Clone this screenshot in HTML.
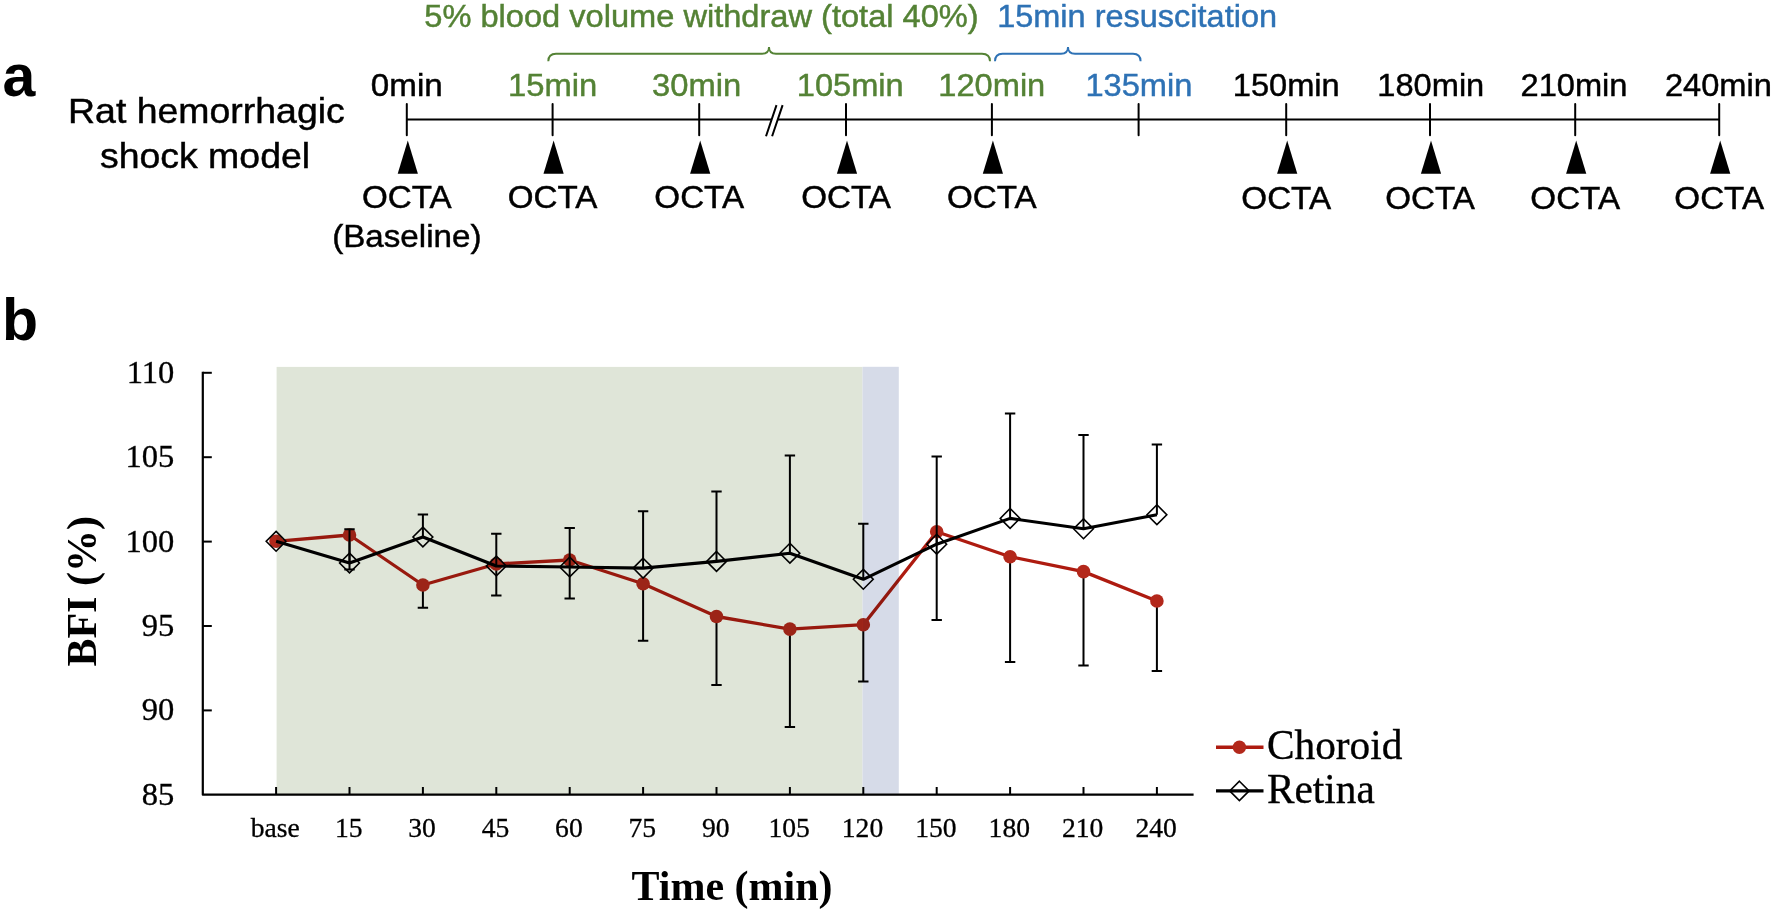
<!DOCTYPE html>
<html lang="en">
<head>
<meta charset="utf-8">
<title>Rat hemorrhagic shock model – OCTA timeline and BFI</title>
<style>
html,body{margin:0;padding:0;background:#fff;}
body{width:1774px;height:914px;overflow:hidden;}
svg{display:block;}
.s{font-family:"Liberation Sans", Arial, Helvetica, sans-serif;}
.t{font-family:"Liberation Serif", "Times New Roman", Times, serif;}
</style>
</head>
<body>
<svg width="1774" height="914" viewBox="0 0 1774 914">
<rect width="1774" height="914" fill="#fff"/>
<g class="s">
<text transform="translate(2.6,95.7) scale(1.000,1)" font-size="59" text-anchor="start" fill="#000" stroke="#000" stroke-width="0" font-weight="700">a</text>
<text transform="translate(2.0,339.6) scale(1.000,1)" font-size="59" text-anchor="start" fill="#000" stroke="#000" stroke-width="0" font-weight="700">b</text>
<text transform="translate(206.4,122.5) scale(1.070,1)" font-size="35" text-anchor="middle" fill="#000" stroke="#000" stroke-width="0.45">Rat hemorrhagic</text>
<text transform="translate(205.0,167.9) scale(1.070,1)" font-size="35" text-anchor="middle" fill="#000" stroke="#000" stroke-width="0.45">shock model</text>
<text transform="translate(701.5,26.8) scale(1.052,1)" font-size="31" text-anchor="middle" fill="#548235" stroke="#548235" stroke-width="0.45">5% blood volume withdraw (total 40%)</text>
<text transform="translate(1137.1,26.8) scale(1.048,1)" font-size="31" text-anchor="middle" fill="#2E72B5" stroke="#2E72B5" stroke-width="0.45">15min resuscitation</text>
<path d="M548.3,61.3 Q548.3,53.7 556,53.7 L762,53.7 Q769,53.7 769,47 Q769,53.7 776,53.7 L982,53.7 Q990,53.7 990,61.3" fill="none" stroke="#548235" stroke-width="1.9"/>
<path d="M995,61.3 Q995,53.7 1002.5,53.7 L1061,53.7 Q1068,53.7 1068,47 Q1068,53.7 1075,53.7 L1133,53.7 Q1140.6,53.7 1140.6,61.3" fill="none" stroke="#2E72B5" stroke-width="1.9"/>
<path d="M406.8,119.4 H1719.2" stroke="#000" stroke-width="2" fill="none"/>
<path d="M766,136.3 L776.5,105.1 L782.6,105.1 L772.1,136.3 Z" fill="#fff"/>
<path d="M766,136.3 L776.5,105.1 M772.1,136.3 L782.6,105.1" stroke="#000" stroke-width="2" fill="none"/>
<path d="M406.8,104 V135.2" stroke="#000" stroke-width="2" stroke-linecap="round" fill="none"/>
<text transform="translate(406.8,96.4) scale(1.070,1)" font-size="31" text-anchor="middle" fill="#000" stroke="#000" stroke-width="0.45">0min</text>
<path d="M407.8,140.6 L417.9,173.8 L397.7,173.8 Z" fill="#000"/>
<text transform="translate(406.8,208.2) scale(1.070,1)" font-size="31" text-anchor="middle" fill="#000" stroke="#000" stroke-width="0.45">OCTA</text>
<path d="M552.6,104 V135.2" stroke="#000" stroke-width="2" stroke-linecap="round" fill="none"/>
<text transform="translate(552.7,96.4) scale(1.058,1)" font-size="31" text-anchor="middle" fill="#548235" stroke="#548235" stroke-width="0.45">15min</text>
<path d="M553.6,140.6 L563.7,173.8 L543.5,173.8 Z" fill="#000"/>
<text transform="translate(552.6,208.2) scale(1.070,1)" font-size="31" text-anchor="middle" fill="#000" stroke="#000" stroke-width="0.45">OCTA</text>
<path d="M699.2,104 V135.2" stroke="#000" stroke-width="2" stroke-linecap="round" fill="none"/>
<text transform="translate(696.6,96.4) scale(1.058,1)" font-size="31" text-anchor="middle" fill="#548235" stroke="#548235" stroke-width="0.45">30min</text>
<path d="M700.2,140.6 L710.3,173.8 L690.1,173.8 Z" fill="#000"/>
<text transform="translate(699.2,208.2) scale(1.070,1)" font-size="31" text-anchor="middle" fill="#000" stroke="#000" stroke-width="0.45">OCTA</text>
<path d="M846.0,104 V135.2" stroke="#000" stroke-width="2" stroke-linecap="round" fill="none"/>
<text transform="translate(850.2,96.4) scale(1.052,1)" font-size="31" text-anchor="middle" fill="#548235" stroke="#548235" stroke-width="0.45">105min</text>
<path d="M847.0,140.6 L857.1,173.8 L836.9,173.8 Z" fill="#000"/>
<text transform="translate(846.0,208.2) scale(1.070,1)" font-size="31" text-anchor="middle" fill="#000" stroke="#000" stroke-width="0.45">OCTA</text>
<path d="M991.9,104 V135.2" stroke="#000" stroke-width="2" stroke-linecap="round" fill="none"/>
<text transform="translate(991.8,96.4) scale(1.052,1)" font-size="31" text-anchor="middle" fill="#548235" stroke="#548235" stroke-width="0.45">120min</text>
<path d="M992.9,140.6 L1003.0,173.8 L982.8,173.8 Z" fill="#000"/>
<text transform="translate(991.9,208.2) scale(1.070,1)" font-size="31" text-anchor="middle" fill="#000" stroke="#000" stroke-width="0.45">OCTA</text>
<path d="M1138.6,104 V135.2" stroke="#000" stroke-width="2" stroke-linecap="round" fill="none"/>
<text transform="translate(1138.9,96.4) scale(1.052,1)" font-size="31" text-anchor="middle" fill="#2E72B5" stroke="#2E72B5" stroke-width="0.45">135min</text>
<path d="M1286.2,104 V135.2" stroke="#000" stroke-width="2" stroke-linecap="round" fill="none"/>
<text transform="translate(1286.2,96.4) scale(1.052,1)" font-size="31" text-anchor="middle" fill="#000" stroke="#000" stroke-width="0.45">150min</text>
<path d="M1287.2,140.6 L1297.3,173.8 L1277.1,173.8 Z" fill="#000"/>
<text transform="translate(1286.2,209.1) scale(1.070,1)" font-size="31" text-anchor="middle" fill="#000" stroke="#000" stroke-width="0.45">OCTA</text>
<path d="M1430.0,104 V135.2" stroke="#000" stroke-width="2" stroke-linecap="round" fill="none"/>
<text transform="translate(1430.8,96.4) scale(1.052,1)" font-size="31" text-anchor="middle" fill="#000" stroke="#000" stroke-width="0.45">180min</text>
<path d="M1431.0,140.6 L1441.1,173.8 L1420.9,173.8 Z" fill="#000"/>
<text transform="translate(1430.0,209.1) scale(1.070,1)" font-size="31" text-anchor="middle" fill="#000" stroke="#000" stroke-width="0.45">OCTA</text>
<path d="M1575.2,104 V135.2" stroke="#000" stroke-width="2" stroke-linecap="round" fill="none"/>
<text transform="translate(1574.0,96.4) scale(1.052,1)" font-size="31" text-anchor="middle" fill="#000" stroke="#000" stroke-width="0.45">210min</text>
<path d="M1576.2,140.6 L1586.3,173.8 L1566.1,173.8 Z" fill="#000"/>
<text transform="translate(1575.2,209.1) scale(1.070,1)" font-size="31" text-anchor="middle" fill="#000" stroke="#000" stroke-width="0.45">OCTA</text>
<path d="M1719.2,104 V135.2" stroke="#000" stroke-width="2" stroke-linecap="round" fill="none"/>
<text transform="translate(1718.4,96.4) scale(1.052,1)" font-size="31" text-anchor="middle" fill="#000" stroke="#000" stroke-width="0.45">240min</text>
<path d="M1720.2,140.6 L1730.3,173.8 L1710.1,173.8 Z" fill="#000"/>
<text transform="translate(1719.2,209.1) scale(1.070,1)" font-size="31" text-anchor="middle" fill="#000" stroke="#000" stroke-width="0.45">OCTA</text>
<text transform="translate(406.8,247.2) scale(1.070,1)" font-size="31" text-anchor="middle" fill="#000" stroke="#000" stroke-width="0.45">(Baseline)</text>
</g>
<path d="M202.8,371.7 V794.7 H1193.6" stroke="#000" stroke-width="2.2" stroke-linejoin="round" fill="none"/>
<path d="M202.8,372.8 H211.8" stroke="#000" stroke-width="2" fill="none"/>
<text class="t" x="174.3" y="382.8" font-size="32.6" text-anchor="end" fill="#000" stroke="#000" stroke-width="0.3">110</text>
<path d="M202.8,457.2 H211.8" stroke="#000" stroke-width="2" fill="none"/>
<text class="t" x="174.3" y="467.2" font-size="32.6" text-anchor="end" fill="#000" stroke="#000" stroke-width="0.3">105</text>
<path d="M202.8,541.6 H211.8" stroke="#000" stroke-width="2" fill="none"/>
<text class="t" x="174.3" y="551.6" font-size="32.6" text-anchor="end" fill="#000" stroke="#000" stroke-width="0.3">100</text>
<path d="M202.8,626.0 H211.8" stroke="#000" stroke-width="2" fill="none"/>
<text class="t" x="174.3" y="636.0" font-size="32.6" text-anchor="end" fill="#000" stroke="#000" stroke-width="0.3">95</text>
<path d="M202.8,710.4 H211.8" stroke="#000" stroke-width="2" fill="none"/>
<text class="t" x="174.3" y="720.4" font-size="32.6" text-anchor="end" fill="#000" stroke="#000" stroke-width="0.3">90</text>
<text class="t" x="174.3" y="804.8" font-size="32.6" text-anchor="end" fill="#000" stroke="#000" stroke-width="0.3">85</text>
<path d="M276.1,794.7 V787" stroke="#000" stroke-width="2" fill="none"/>
<text class="t" x="275.2" y="836.8" font-size="27.6" stroke="#000" stroke-width="0.3" text-anchor="middle" fill="#000">base</text>
<path d="M349.5,794.7 V787" stroke="#000" stroke-width="2" fill="none"/>
<text class="t" x="348.7" y="836.8" font-size="27.6" stroke="#000" stroke-width="0.3" text-anchor="middle" fill="#000">15</text>
<path d="M422.9,794.7 V787" stroke="#000" stroke-width="2" fill="none"/>
<text class="t" x="422.1" y="836.8" font-size="27.6" stroke="#000" stroke-width="0.3" text-anchor="middle" fill="#000">30</text>
<path d="M496.3,794.7 V787" stroke="#000" stroke-width="2" fill="none"/>
<text class="t" x="495.5" y="836.8" font-size="27.6" stroke="#000" stroke-width="0.3" text-anchor="middle" fill="#000">45</text>
<path d="M569.7,794.7 V787" stroke="#000" stroke-width="2" fill="none"/>
<text class="t" x="568.9" y="836.8" font-size="27.6" stroke="#000" stroke-width="0.3" text-anchor="middle" fill="#000">60</text>
<path d="M643.1,794.7 V787" stroke="#000" stroke-width="2" fill="none"/>
<text class="t" x="642.3" y="836.8" font-size="27.6" stroke="#000" stroke-width="0.3" text-anchor="middle" fill="#000">75</text>
<path d="M716.5,794.7 V787" stroke="#000" stroke-width="2" fill="none"/>
<text class="t" x="715.7" y="836.8" font-size="27.6" stroke="#000" stroke-width="0.3" text-anchor="middle" fill="#000">90</text>
<path d="M789.9,794.7 V787" stroke="#000" stroke-width="2" fill="none"/>
<text class="t" x="789.1" y="836.8" font-size="27.6" stroke="#000" stroke-width="0.3" text-anchor="middle" fill="#000">105</text>
<path d="M863.3,794.7 V787" stroke="#000" stroke-width="2" fill="none"/>
<text class="t" x="862.5" y="836.8" font-size="27.6" stroke="#000" stroke-width="0.3" text-anchor="middle" fill="#000">120</text>
<path d="M936.7,794.7 V787" stroke="#000" stroke-width="2" fill="none"/>
<text class="t" x="935.9" y="836.8" font-size="27.6" stroke="#000" stroke-width="0.3" text-anchor="middle" fill="#000">150</text>
<path d="M1010.1,794.7 V787" stroke="#000" stroke-width="2" fill="none"/>
<text class="t" x="1009.3" y="836.8" font-size="27.6" stroke="#000" stroke-width="0.3" text-anchor="middle" fill="#000">180</text>
<path d="M1083.5,794.7 V787" stroke="#000" stroke-width="2" fill="none"/>
<text class="t" x="1082.7" y="836.8" font-size="27.6" stroke="#000" stroke-width="0.3" text-anchor="middle" fill="#000">210</text>
<path d="M1156.9,794.7 V787" stroke="#000" stroke-width="2" fill="none"/>
<text class="t" x="1156.1" y="836.8" font-size="27.6" stroke="#000" stroke-width="0.3" text-anchor="middle" fill="#000">240</text>
<text class="t" x="732" y="899.5" font-size="42" font-weight="700" text-anchor="middle" fill="#000">Time (min)</text>
<text class="t" transform="translate(95.8,591.3) rotate(-90)" font-size="42" font-weight="700" text-anchor="middle" fill="#000">BFI (%)</text>
<path d="M349.5,535.0 V569.5 M344.3,569.5 H354.7 M422.9,585.0 V607.8 M417.7,607.8 H428.1 M496.3,564.0 V595.4 M491.1,595.4 H501.5 M569.7,560.0 V598.4 M564.5,598.4 H574.9 M643.1,583.7 V640.7 M637.9,640.7 H648.3 M716.5,616.5 V684.9 M711.3,684.9 H721.7 M789.9,629.1 V727.0 M784.7,727.0 H795.1 M863.3,624.7 V681.6 M858.1,681.6 H868.5 M936.7,531.7 V620.1 M931.5,620.1 H941.9 M1010.1,556.7 V662.0 M1004.9,662.0 H1015.3 M1083.5,571.6 V665.4 M1078.3,665.4 H1088.7 M1156.9,601.0 V671.0 M1151.7,671.0 H1162.1" stroke="#000" stroke-width="2" fill="none"/>
<polyline points="276.1,541.3 349.5,535.0 422.9,585.0 496.3,564.0 569.7,560.0 643.1,583.7 716.5,616.5 789.9,629.1 863.3,624.7 936.7,531.7 1010.1,556.7 1083.5,571.6 1156.9,601.0" fill="none" stroke="#AE1B10" stroke-width="3.3" stroke-linejoin="round"/>
<circle cx="276.1" cy="541.3" r="6.8" fill="#B3281B"/>
<circle cx="349.5" cy="535.0" r="6.8" fill="#B3281B"/>
<circle cx="422.9" cy="585.0" r="6.8" fill="#B3281B"/>
<circle cx="496.3" cy="564.0" r="6.8" fill="#B3281B"/>
<circle cx="569.7" cy="560.0" r="6.8" fill="#B3281B"/>
<circle cx="643.1" cy="583.7" r="6.8" fill="#B3281B"/>
<circle cx="716.5" cy="616.5" r="6.8" fill="#B3281B"/>
<circle cx="789.9" cy="629.1" r="6.8" fill="#B3281B"/>
<circle cx="863.3" cy="624.7" r="6.8" fill="#B3281B"/>
<circle cx="936.7" cy="531.7" r="6.8" fill="#B3281B"/>
<circle cx="1010.1" cy="556.7" r="6.8" fill="#B3281B"/>
<circle cx="1083.5" cy="571.6" r="6.8" fill="#B3281B"/>
<circle cx="1156.9" cy="601.0" r="6.8" fill="#B3281B"/>
<path d="M349.5,563.0 V529.3 M344.3,529.3 H354.7 M422.9,537.0 V514.5 M417.7,514.5 H428.1 M496.3,566.0 V533.7 M491.1,533.7 H501.5 M569.7,567.0 V528.0 M564.5,528.0 H574.9 M643.1,568.1 V511.2 M637.9,511.2 H648.3 M716.5,561.4 V491.4 M711.3,491.4 H721.7 M789.9,553.2 V455.6 M784.7,455.6 H795.1 M863.3,579.3 V523.8 M858.1,523.8 H868.5 M936.7,544.2 V456.6 M931.5,456.6 H941.9 M1010.1,518.4 V413.5 M1004.9,413.5 H1015.3 M1083.5,528.8 V435.1 M1078.3,435.1 H1088.7 M1156.9,514.7 V444.4 M1151.7,444.4 H1162.1" stroke="#000" stroke-width="2" fill="none"/>
<polyline points="276.1,541.3 349.5,563.0 422.9,537.0 496.3,566.0 569.7,567.0 643.1,568.1 716.5,561.4 789.9,553.2 863.3,579.3 936.7,544.2 1010.1,518.4 1083.5,528.8 1156.9,514.7" fill="none" stroke="#000" stroke-width="3.1" stroke-linejoin="round"/>
<path d="M276.1,531.4 L285.9,541.3 L276.1,551.2 L266.2,541.3 Z" fill="none" stroke="#000" stroke-width="1.6"/>
<path d="M349.5,553.1 L359.4,563.0 L349.5,572.9 L339.6,563.0 Z" fill="none" stroke="#000" stroke-width="1.6"/>
<path d="M422.9,527.1 L432.8,537.0 L422.9,546.9 L413.0,537.0 Z" fill="none" stroke="#000" stroke-width="1.6"/>
<path d="M496.3,556.1 L506.2,566.0 L496.3,575.9 L486.4,566.0 Z" fill="none" stroke="#000" stroke-width="1.6"/>
<path d="M569.7,557.1 L579.6,567.0 L569.7,576.9 L559.8,567.0 Z" fill="none" stroke="#000" stroke-width="1.6"/>
<path d="M643.1,558.2 L653.0,568.1 L643.1,578.0 L633.2,568.1 Z" fill="none" stroke="#000" stroke-width="1.6"/>
<path d="M716.5,551.5 L726.4,561.4 L716.5,571.3 L706.6,561.4 Z" fill="none" stroke="#000" stroke-width="1.6"/>
<path d="M789.9,543.3 L799.8,553.2 L789.9,563.1 L780.0,553.2 Z" fill="none" stroke="#000" stroke-width="1.6"/>
<path d="M863.3,569.4 L873.2,579.3 L863.3,589.2 L853.4,579.3 Z" fill="none" stroke="#000" stroke-width="1.6"/>
<path d="M936.7,534.3 L946.6,544.2 L936.7,554.1 L926.8,544.2 Z" fill="none" stroke="#000" stroke-width="1.6"/>
<path d="M1010.1,508.5 L1020.0,518.4 L1010.1,528.3 L1000.2,518.4 Z" fill="none" stroke="#000" stroke-width="1.6"/>
<path d="M1083.5,518.9 L1093.4,528.8 L1083.5,538.7 L1073.6,528.8 Z" fill="none" stroke="#000" stroke-width="1.6"/>
<path d="M1156.9,504.8 L1166.8,514.7 L1156.9,524.6 L1147.0,514.7 Z" fill="none" stroke="#000" stroke-width="1.6"/>
<g style="mix-blend-mode:multiply">
<rect x="276.6" y="366.9" width="585.9" height="427" fill="#DFE5D8"/>
<rect x="862.5" y="366.8" width="36.3" height="427" fill="#D6DBE8"/>
</g>
<path d="M1216,747.3 H1263.5" stroke="#AE1B10" stroke-width="3.4" fill="none"/>
<circle cx="1239.4" cy="747.3" r="6.7" fill="#B3281B"/>
<text class="t" x="1267" y="759" font-size="41.3" fill="#000" stroke="#000" stroke-width="0.35">Choroid</text>
<path d="M1216,790.9 H1263.5" stroke="#000" stroke-width="3.1" fill="none"/>
<path d="M1239.4,781.2 L1249.1,790.9 L1239.4,800.6 L1229.7,790.9 Z" fill="none" stroke="#000" stroke-width="1.6"/>
<text class="t" x="1267" y="802.5" font-size="41.3" fill="#000" stroke="#000" stroke-width="0.35">Retina</text>
</svg>
</body>
</html>
